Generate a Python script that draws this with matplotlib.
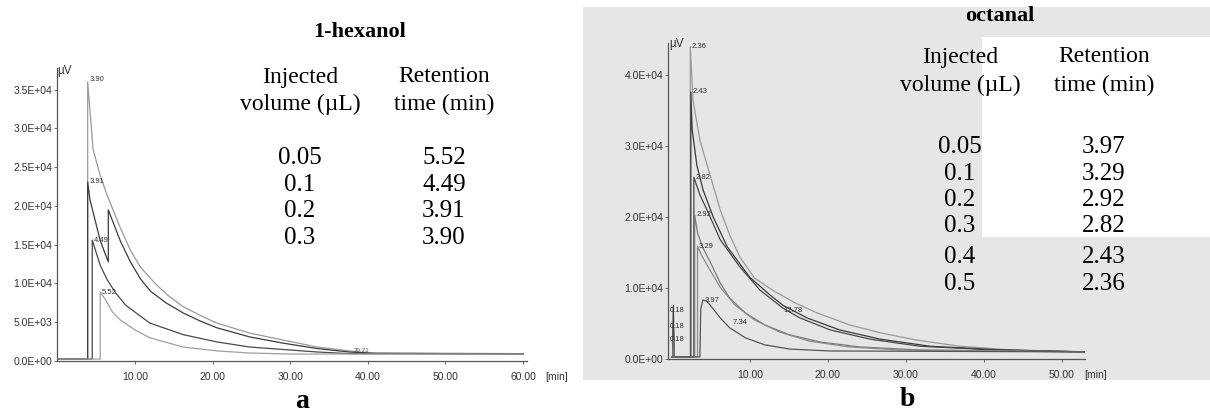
import matplotlib
matplotlib.use("Agg")
import matplotlib.pyplot as plt
from matplotlib.patches import Rectangle

W, H = 1210, 417

def fx(x):
    return x / W

def fy(y):
    return 1 - y / H

# ---------------- data : panel a (1-hexanol) ----------------
a_volumes = ["0.05", "0.1", "0.2", "0.3"]
a_rt = ["5.52", "4.49", "3.91", "3.90"]

# traces (time in min, signal in uV)
a_t_03 = [0, 3.9, 3.9, 4.6, 5.5, 6.4, 8.1, 9.4, 10.7, 12.6, 14.2, 16.2, 18.4, 20.5,
          24.8, 29.1, 33.5, 37.7, 40.0, 60]
a_v_03 = [250, 250, 36000, 27300, 24000, 21400, 17200, 14300, 12100, 10000, 8500, 7000, 5900, 4900,
          3600, 2700, 1800, 1300, 1000, 900]

a_t_02 = [0, 3.9, 3.9, 4.2, 4.9, 5.5, 6.2, 6.56, 6.56, 8.1, 9.4, 10.7, 12.0, 14.0, 16.2,
          18.3, 20.5, 24.8, 29.1, 33.5, 37.7, 41, 60]
a_v_02 = [250, 250, 23100, 20800, 18000, 15600, 13700, 12800, 19500, 15500, 12800, 10600, 9000, 7500, 6200,
          5200, 4300, 3100, 2300, 1600, 1150, 1000, 950]

a_t_01 = [0, 4.49, 4.49, 4.9, 5.5, 6.4, 7.5, 8.8, 11.9, 16.2, 20.6, 24.8, 30.0, 33.5, 37.7, 60]
a_v_01 = [250, 250, 15600, 14300, 12400, 10500, 8800, 7200, 4900, 3400, 2450, 1800, 1420, 1160, 950, 900]

a_t_005 = [0, 5.52, 5.52, 6.2, 7.1, 8.1, 10.0, 11.9, 16.2, 20.6, 24.8, 30.0, 60]
a_v_005 = [250, 250, 8900, 7900, 6300, 5300, 4000, 3000, 1800, 1300, 1030, 900, 900]

a_peak_labels = ["3.90", "3.91", "4.49", "5.52"]
a_peak_t = [3.9, 3.9, 4.49, 5.52]
a_peak_v = [36300, 23100, 15600, 8900]

a_yticks = [0, 5000, 10000, 15000, 20000, 25000, 30000, 35000]
a_ylabels = ["0.0E+00", "5.0E+03", "1.0E+04", "1.5E+04", "2.0E+04", "2.5E+04", "3.0E+04", "3.5E+04"]
a_xticks = [10, 20, 30, 40, 50, 60]
a_xlabels = ["10.00", "20.00", "30.00", "40.00", "50.00", "60.00"]

# ---------------- data : panel b (octanal) ----------------
b_volumes = ["0.05", "0.1", "0.2", "0.3", "0.4", "0.5"]
b_rt = ["3.97", "3.29", "2.92", "2.82", "2.43", "2.36"]

b_t_05 = [0, 2.36, 2.36, 2.7, 3.6, 4.6, 6.2, 7.4, 8.7, 10.6, 12.9, 15.8, 18.6, 22.8,
          26.7, 31.2, 36.9, 43.3, 53]
b_v_05 = [300, 300, 44000, 36500, 30800, 27000, 21000, 17500, 14400, 11400, 9700, 7900, 6500, 4800,
          3700, 2700, 1800, 1300, 1000]

b_t_04 = [0, 0.1, 0.18, 0.3, 2.43, 2.43, 2.6, 3.2, 4.0, 5.3, 7.1, 10.0, 12.6, 14.2, 17.3,
          21.5, 26.7, 33.1, 42, 53]
b_v_04 = [300, 300, 7500, 300, 300, 37600, 32300, 27300, 23800, 20000, 15800, 11500, 9000, 7600, 5800,
          4100, 2800, 1800, 1300, 1000]

b_t_03 = [0, 0.1, 0.18, 0.3, 2.82, 2.82, 3.6, 4.5, 6.2, 8.7, 11.3, 14.2, 16.4, 20.3,
          25.4, 31.8, 40.8, 53]
b_v_03 = [300, 300, 5000, 300, 300, 25600, 23100, 21000, 16800, 13000, 9700, 7200, 5800, 4100,
          2800, 1800, 1300, 1000]

b_t_02 = [0, 0.1, 0.18, 0.3, 2.92, 2.92, 3.3, 4.0, 4.9, 6.2, 7.4, 9.4, 11.9, 15.1, 19.0,
          24.1, 31.8, 53]
b_v_02 = [300, 300, 3000, 300, 300, 20300, 17700, 15600, 13700, 10700, 8600, 6500, 4800, 3400, 2400,
          1700, 1270, 1000]

b_t_01 = [0, 3.29, 3.29, 3.8, 4.9, 6.2, 8.1, 10.6, 13.8, 17.7, 22.8, 29.2, 53]
b_v_01 = [300, 300, 15900, 14600, 12500, 10100, 7600, 5500, 3800, 2500, 1700, 1270, 1000]

b_t_005 = [0, 3.6, 3.7, 3.97, 4.4, 4.9, 6.2, 7.4, 9.4, 11.9, 15.1, 20.3, 53]
b_v_005 = [300, 300, 7000, 8300, 8200, 7600, 5800, 4400, 3000, 2000, 1400, 1130, 1000]

b_peak_labels = ["2.36", "2.43", "2.82", "2.92", "3.29", "3.97"]
b_peak_t = [2.36, 2.43, 2.82, 2.92, 3.29, 3.97]
b_peak_v = [44000, 37600, 25600, 20300, 15900, 8300]

b_extra_labels = ["0.18", "0.18", "0.18", "7.34", "12.78"]
b_extra_t = [-0.3, -0.3, -0.3, 7.8, 14.3]
b_extra_v = [6900, 4600, 2700, 5200, 6900]

b_yticks = [0, 10000, 20000, 30000, 40000]
b_ylabels = ["0.0E+00", "1.0E+04", "2.0E+04", "3.0E+04", "4.0E+04"]
b_xticks = [10, 20, 30, 40, 50]
b_xlabels = ["10.00", "20.00", "30.00", "40.00", "50.00"]

# ---------------- figure ----------------
fig = plt.figure(figsize=(W / 100, H / 100), dpi=100)
serif = "Liberation Serif"
sans = "Liberation Sans"

# scanned backgrounds of panel b
fig.add_artist(Rectangle((fx(583), fy(380)), fx(1210) - fx(583), fy(7) - fy(380),
                         transform=fig.transFigure, color="#e6e6e6", lw=0, zorder=-2))
fig.add_artist(Rectangle((fx(982), fy(237)), fx(1210) - fx(982), fy(37) - fy(237),
                         transform=fig.transFigure, color="white", lw=0, zorder=-1))


def chrom_axes(left, top, right, bottom):
    ax = fig.add_axes([fx(left), fy(bottom), fx(right) - fx(left), fy(top) - fy(bottom)])
    ax.set_facecolor("none")
    for s in ["top", "right"]:
        ax.spines[s].set_visible(False)
    for s in ["left", "bottom"]:
        ax.spines[s].set_color("#555555")
        ax.spines[s].set_linewidth(0.9)
    ax.tick_params(axis="y", length=2, width=0.6, pad=1.5, labelsize=7.5, labelcolor="#333333", colors="#555555")
    ax.tick_params(axis="x", length=2, width=0.6, pad=6, labelsize=7.5, labelcolor="#333333", colors="#555555")
    return ax


# ---- panel a ----
axa = chrom_axes(57, 68, 527, 361)
axa.plot(a_t_03, a_v_03, color="#9a9a9a", lw=0.9)
axa.plot(a_t_02, a_v_02, color="#3c3c3c", lw=0.9)
axa.plot(a_t_01, a_v_01, color="#4a4a4a", lw=0.9)
axa.plot(a_t_005, a_v_005, color="#a0a0a0", lw=0.9)
axa.set_xlim(-0.05, 60.5)
axa.set_ylim(0, 37800)
axa.set_yticks(a_yticks, a_ylabels, fontfamily=sans)
axa.set_xticks(a_xticks, a_xlabels, fontfamily=sans)
for lab, t, v in zip(a_peak_labels, a_peak_t, a_peak_v):
    axa.text(t + 0.2, v, lab, fontsize=5.5, fontfamily=sans, color="#333333", ha="left", va="center")
axa.text(38.2, 1300, "39.21", fontsize=4.5, fontfamily=sans, color="#555555", ha="left", va="center")
axa.annotate("[min]", xy=(60, 0), xytext=(16, -8), textcoords="offset points",
             fontsize=7.5, fontfamily=sans, color="#333333", ha="left", va="top")
fig.text(fx(57), fy(71), "µV", fontsize=8.5, fontfamily=sans, color="#333333", ha="left", va="center")

fig.text(fx(360), fy(32), "1-hexanol", fontsize=16, fontweight="bold", fontfamily=serif, ha="center", va="center")
fig.text(fx(300), fy(77), "Injected", fontsize=17, fontfamily=serif, ha="center", va="center")
fig.text(fx(300), fy(104), "volume (µL)", fontsize=17, fontfamily=serif, ha="center", va="center")
fig.text(fx(444), fy(77), "Retention", fontsize=17, fontfamily=serif, ha="center", va="center")
fig.text(fx(444), fy(104), "time (min)", fontsize=17, fontfamily=serif, ha="center", va="center")
for i, (vol, rt) in enumerate(zip(a_volumes, a_rt)):
    y = 158 + i * 26.7
    fig.text(fx(300), fy(y), vol, fontsize=18, fontfamily=serif, ha="center", va="center")
    fig.text(fx(444), fy(y), rt, fontsize=18, fontfamily=serif, ha="center", va="center")

# ---- panel b ----
axb = chrom_axes(668, 43, 1085, 359)
axb.plot(b_t_05, b_v_05, color="#9a9a9a", lw=0.9)
axb.plot(b_t_04, b_v_04, color="#3a3a3a", lw=0.9)
axb.plot(b_t_03, b_v_03, color="#474747", lw=0.9)
axb.plot(b_t_02, b_v_02, color="#7a7a7a", lw=0.9)
axb.plot(b_t_01, b_v_01, color="#8a8a8a", lw=0.9)
axb.plot(b_t_005, b_v_005, color="#555555", lw=0.9)
axb.set_xlim(-0.5, 53)
axb.set_ylim(0, 44500)
axb.set_yticks(b_yticks, b_ylabels, fontfamily=sans)
axb.set_xticks(b_xticks, b_xlabels, fontfamily=sans)
for lab, t, v in zip(b_peak_labels, b_peak_t, b_peak_v):
    axb.text(t + 0.2, v, lab, fontsize=5.5, fontfamily=sans, color="#333333", ha="left", va="center")
for lab, t, v in zip(b_extra_labels, b_extra_t, b_extra_v):
    axb.text(t, v, lab, fontsize=5.5, fontfamily=sans, color="#333333", ha="left", va="center")
axb.annotate("[min]", xy=(50, 0), xytext=(16, -8), textcoords="offset points",
             fontsize=7.5, fontfamily=sans, color="#333333", ha="left", va="top")
fig.text(fx(669), fy(44), "µV", fontsize=8.5, fontfamily=sans, color="#333333", ha="left", va="center")

fig.text(fx(1000), fy(16), "octanal", fontsize=16, fontweight="bold", fontfamily=serif, ha="center", va="center")
fig.text(fx(960), fy(57), "Injected", fontsize=17, fontfamily=serif, ha="center", va="center")
fig.text(fx(960), fy(85), "volume (µL)", fontsize=17, fontfamily=serif, ha="center", va="center")
fig.text(fx(1104), fy(57), "Retention", fontsize=17, fontfamily=serif, ha="center", va="center")
fig.text(fx(1104), fy(85), "time (min)", fontsize=17, fontfamily=serif, ha="center", va="center")
b_rows_y = [147, 174, 200, 226, 257, 284]
for vol, rt, y in zip(b_volumes, b_rt, b_rows_y):
    fig.text(fx(960), fy(y), vol, fontsize=18, fontfamily=serif, ha="center", va="center")
    fig.text(fx(1104), fy(y), rt, fontsize=18, fontfamily=serif, ha="center", va="center")

# panel letters
fig.text(fx(302), fy(402), "a", fontsize=20, fontweight="bold", fontfamily=serif, ha="center", va="center")
fig.text(fx(907), fy(400), "b", fontsize=20, fontweight="bold", fontfamily=serif, ha="center", va="center")

fig.savefig("out.png", dpi=100)
